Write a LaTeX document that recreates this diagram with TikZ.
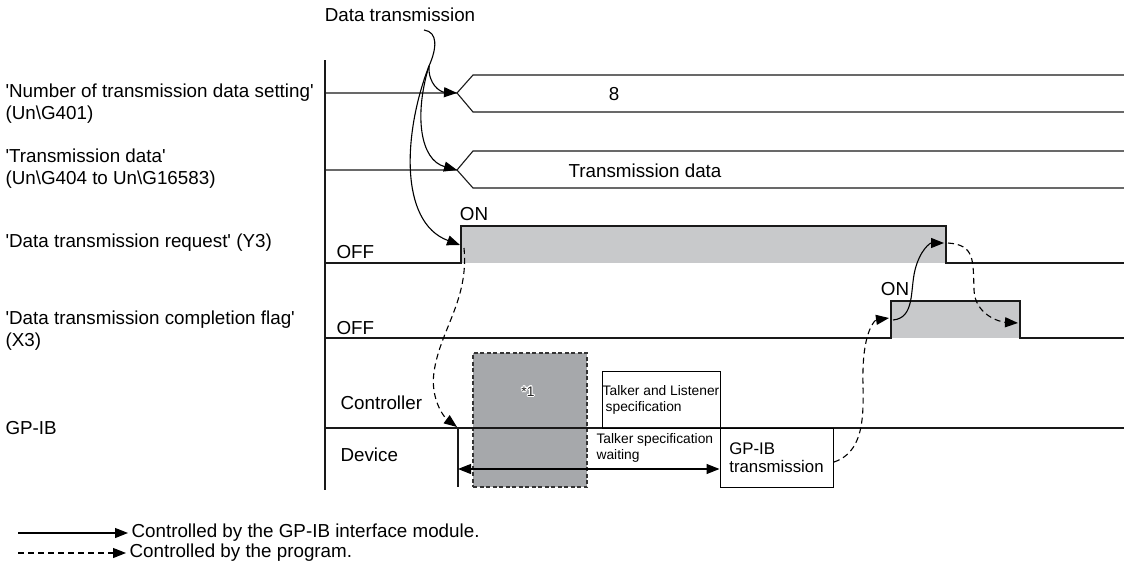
\documentclass[tikz,border=0pt]{standalone}
\usepackage{fontspec}
\setmainfont{Liberation Sans}
\usepackage{contour}
\contourlength{0.9pt}
\usetikzlibrary{arrows.meta,positioning}
\definecolor{ongray}{RGB}{200,201,203}
\definecolor{boxgray}{RGB}{166,168,171}
\newcommand{\sq}{\textquotesingle}

\begin{document}
\begin{tikzpicture}[x=1pt,y=-1pt,line width=1.1pt,
    sig/.style={draw=black!90},
    tip/.style={-{Triangle[length=13pt,width=10pt]}},
    modarr/.style={tip,black},
    progarr/.style={tip,black,dash pattern=on 6pt off 4pt},
    lbl/.style={font=\fontsize{18.8}{22}\selectfont,inner sep=0pt},
    small/.style={font=\fontsize{13.8}{16}\selectfont,inner sep=0pt}]
  \useasboundingbox (0,0) rectangle (1124,570);

  % signal names
  \node[lbl,anchor=west,align=left] (nset) at (5,104) {\sq Number of transmission data setting\sq\\(Un\textbackslash G401)};
  \node[lbl,anchor=west,align=left] (tdat) at (5,169) {\sq Transmission data\sq\\(Un\textbackslash G404 to Un\textbackslash G16583)};
  \node[lbl,anchor=west] (yreq) at (5,243) {\sq Data transmission request\sq{} (Y3)};
  \node[lbl,anchor=west,align=left] (xflg) at (5,331) {\sq Data transmission completion flag\sq\\(X3)};
  \node[lbl,anchor=west] (gpib) at (5,428) {GP-IB};

  % data rows
  \coordinate (r1) at (457,93);
  \draw[sig] (325,93) -- (r1) -- (473,75) -- (1124,75);
  \draw[sig] (r1) -- (473,112) -- (1124,112);
  \node[lbl] (val8) at (614,94) {8};
  \coordinate (r2) at (457,170);
  \draw[sig] (325,170) -- (r2) -- (473,151) -- (1124,151);
  \draw[sig] (r2) -- (473,188) -- (1124,188);
  \node[lbl] (txd) at (645,171) {Transmission data};

  % Y3
  \fill[ongray] (461,226) rectangle (946,263);
  \draw[sig] (325,263) -- (461,263) -- (461,226) -- (946,226) -- (946,263) -- (1124,263);
  \node[lbl] (yon) at (474,214) {ON};
  \node[lbl,anchor=west] (yoff) at (336,252) {OFF};

  % X3
  \fill[ongray] (891,301) rectangle (1020,338);
  \draw[sig] (325,338) -- (891,338) -- (891,301) -- (1020,301) -- (1020,338) -- (1124,338);
  \node[lbl] (xon) at (895,289) {ON};
  \node[lbl,anchor=west] (xoff) at (336,328) {OFF};

  % GP-IB
  \node[draw=black!80,dash pattern=on 4pt off 2.5pt,fill=boxgray,minimum width=114,minimum height=134,inner sep=0pt] (wait1) at (530,420) {};
  \node[small,text=black!85] (star) at (528,392) {\contour{white}{*1}};
  \draw[sig] (325,428) -- (1124,428);
  \node[lbl,anchor=west] (ctrl) at (340,403) {Controller};
  \node[lbl,anchor=west] (dev) at (340,455) {Device};
  \node[draw,small,align=left,minimum width=118,minimum height=57,line width=1pt] (tls) at (661,399.5) {Talker and Listener\\\hspace*{3pt}specification};
  \node[draw,font=\fontsize{16.8}{18.5}\selectfont,align=left,minimum width=113,minimum height=59,line width=1pt] (gptx) at (776.5,457.5) {GP-IB\\transmission};
  \draw[sig] (458,428) -- (458,487);
  \coordinate (dvs) at (458,469);
  \draw[{Triangle[length=13pt,width=10pt]}-{Triangle[length=13pt,width=10pt]}] (dvs) -- (gptx.west |- dvs);
  \node[small,anchor=north west,align=left] (tsw) at (596,433) {Talker specification\\waiting};

  % time axis
  \draw[sig] (325,60) -- (325,490);

  % data transmission arrows
  \node[lbl] (dtx) at (400,15) {Data transmission};
  \coordinate (dsrc) at (424,30);
  \coordinate (split) at (429,66);
  \coordinate (yup) at (460,245);
  \draw (dsrc) .. controls (438,32) and (437,48) .. (split);
  \draw[modarr] (split) .. controls (428,84) and (440,92) .. (r1);
  \draw[modarr] (split) .. controls (414,115) and (420,160) .. (r2);
  \draw[modarr] (split) .. controls (404,130) and (398,222) .. (yup);

  % handshake arrows
  \coordinate (ystart) at (464,248);
  \coordinate (gpst) at (457,427);
  \draw[progarr] (ystart) .. controls (469,300) and (440,330) .. (434,372) .. controls (430,400) and (445,418) .. (gpst);
  \coordinate (gpend) at (834,462);
  \coordinate (xup) at (889,318);
  \draw[progarr] (gpend) .. controls (870,450) and (862,400) .. (863,370) .. controls (864,330) and (875,320) .. (xup);
  \coordinate (xbeg) at (893,320);
  \coordinate (ydn) at (944,243);
  \draw[modarr] (xbeg) .. controls (915,318) and (910,290) .. (915,270) .. controls (920,250) and (930,243) .. (ydn);
  \coordinate (ybeg) at (948,243);
  \coordinate (xdn) at (1018,323);
  \draw[progarr] (ybeg) .. controls (975,245) and (973,260) .. (974,290) .. controls (975,315) and (1000,322) .. (xdn);

  % legend
  \coordinate (la) at (18,533);
  \node[lbl,anchor=west,inner sep=3pt] (lmod) at (128,533) {Controlled by the GP-IB interface module.};
  \draw[modarr] (la) -- (lmod.west);
  \coordinate (lb) at (18,553);
  \node[lbl,anchor=west,inner sep=3pt] (lprog) at (126,553) {Controlled by the program.};
  \draw[progarr] (lb) -- (lprog.west);
\end{tikzpicture}
\end{document}
